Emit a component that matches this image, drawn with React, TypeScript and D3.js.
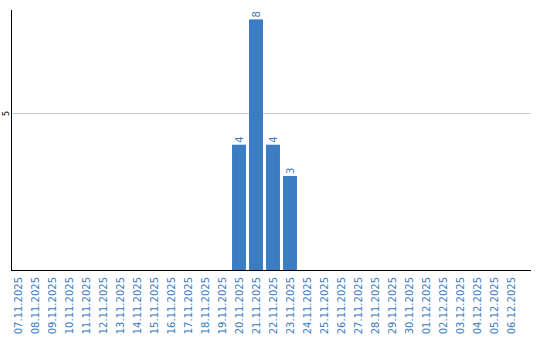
import React from "react";
import * as d3 from "d3";

const dates: string[] = [
  "07.11.2025","08.11.2025","09.11.2025","10.11.2025","11.11.2025","12.11.2025",
  "13.11.2025","14.11.2025","15.11.2025","16.11.2025","17.11.2025","18.11.2025",
  "19.11.2025","20.11.2025","21.11.2025","22.11.2025","23.11.2025","24.11.2025",
  "25.11.2025","26.11.2025","27.11.2025","28.11.2025","29.11.2025","30.11.2025",
  "01.12.2025","02.12.2025","03.12.2025","04.12.2025","05.12.2025","06.12.2025",
];
const values: number[] = [
  0,0,0,0,0,0,0,0,0,0,0,0,0,4,8,4,3,0,0,0,0,0,0,0,0,0,0,0,0,0,
];
const yTicks: number[] = [5];

const W = 540, H = 340;
const left = 11, right = 531, top = 10, bottom = 270;
const barColor = "#3a7dc2";
const labelColor = "#3a7cc1";

export default function App() {
  const x = d3.scaleBand<string>().domain(dates).range([9.5, 519.5]).paddingInner(0.18).paddingOuter(0.09);
  const y = d3.scaleLinear().domain([0, 8.3]).range([bottom, top]);
  return (
    <svg width={W} height={H} style={{ position: "absolute", left: 0, top: 0 }}>
      <rect width={W} height={H} fill="#fff" />
      {yTicks.map((t) => (
        <g key={t}>
          <line x1={left} x2={right} y1={Math.round(y(t)) + 0.5} y2={Math.round(y(t)) + 0.5} stroke="#cccccc" />
          <text
            transform={`translate(6,${y(t)}) rotate(-90)`}
            textAnchor="middle"
            dominantBaseline="central"
            fontFamily="DejaVu Sans, sans-serif"
            fontSize={8}
            fill="#000"
          >{t}</text>
        </g>
      ))}
      {dates.map((d, i) =>
        values[i] > 0 ? (
          <g key={d}>
            <rect x={x(d)} y={y(values[i])} width={x.bandwidth()} height={bottom - y(values[i])} fill={barColor} />
            <text
              transform={`translate(${(x(d) as number) + x.bandwidth() / 2},${y(values[i]) - 2}) rotate(-90)`}
              textAnchor="start"
              dominantBaseline="central"
              fontFamily="DejaVu Sans, sans-serif"
              fontSize={10}
              fill={labelColor}
            >{values[i]}</text>
          </g>
        ) : null
      )}
      <line x1={left + 0.5} x2={left + 0.5} y1={top} y2={bottom} stroke="#000" />
      <line x1={left} x2={right} y1={bottom + 0.5} y2={bottom + 0.5} stroke="#000" />
      {dates.map((d) => (
        <text
          key={d}
          transform={`translate(${(x(d) as number) + x.bandwidth() / 2},277) rotate(-90)`}
          textAnchor="end"
          dominantBaseline="central"
          fontFamily="DejaVu Sans, sans-serif"
          fontSize={10}
          fill={labelColor}
        >{d}</text>
      ))}
    </svg>
  );
}
